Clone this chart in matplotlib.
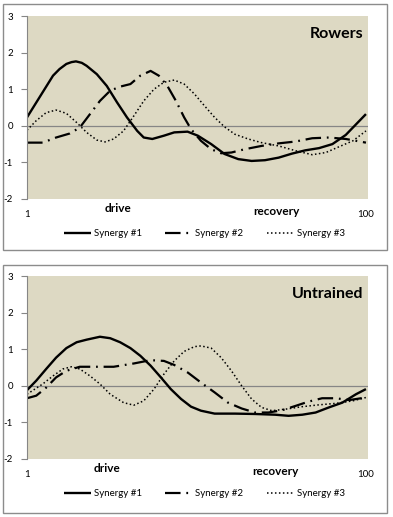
"""
Muscle synergy activation profiles over the rowing stroke cycle,
rowers (top) vs untrained (bottom). Writes out.png.
"""

import matplotlib
matplotlib.use("Agg")
import matplotlib.pyplot as plt
from matplotlib.patches import Rectangle
from matplotlib.transforms import blended_transform_factory

# ── Data ──────────────────────────────────────────────────────────────────────
ROW_T1 = [1, 4.6, 8.6, 10.5, 12.5, 14, 15.3, 17, 18.4, 21.4, 24.3, 27.3, 30.2, 33.2, 35.1, 37.6, 41, 44,
          47.9, 50.9, 54.8, 58.7, 62.7, 66.6, 70.5, 74.5, 78.4, 82.3, 86.3, 90.2, 94.1, 97.1, 100]
ROW_S1 = [0.23, 0.77, 1.37, 1.55, 1.69, 1.74, 1.76, 1.72, 1.64, 1.41, 1.09, 0.64, 0.23, -0.14, -0.32, -0.36,
          -0.27, -0.18, -0.16, -0.27, -0.50, -0.77, -0.91, -0.96, -0.94, -0.87, -0.76, -0.67, -0.61, -0.50,
          -0.25, 0.04, 0.32]

ROW_T2 = [1, 5.6, 9.5, 13.5, 16.4, 19.4, 22.3, 25.3, 28.2, 31.2, 34.1, 37.1, 39.5, 42, 44.5,
          46.9, 48.9, 51.8, 54.8, 57.7, 60.7, 64.6, 69.5, 74.5, 79.4, 84.3, 89.2, 94.1, 100]
ROW_S2 = [-0.46, -0.46, -0.32, -0.21, -0.05, 0.32, 0.68, 0.96, 1.07, 1.14, 1.37, 1.50, 1.37, 1.09, 0.68,
          0.23, -0.09, -0.41, -0.64, -0.75, -0.73, -0.64, -0.55, -0.48, -0.43, -0.34, -0.32, -0.36, -0.46]

ROW_T3 = [1, 3.7, 6.6, 9.5, 12.5, 15.5, 18.4, 21.4, 23.8, 26.3, 29.2, 32.2, 35.1, 38.1, 41, 44,
          46.9, 49.9, 52.8, 55.8, 58.7, 61.7, 65.6, 69.5, 74.5, 79.4, 84.3, 88.3, 92.2, 96.2, 100]
ROW_S3 = [-0.12, 0.14, 0.36, 0.43, 0.34, 0.09, -0.18, -0.39, -0.44, -0.36, -0.14, 0.27, 0.68, 1.00, 1.19, 1.25,
          1.14, 0.87, 0.55, 0.23, -0.03, -0.23, -0.36, -0.46, -0.55, -0.68, -0.79, -0.73, -0.57, -0.41, -0.14]

UNT_T1 = [1, 3.7, 6.6, 9.5, 12.5, 15.5, 18.4, 22.3, 25.3, 28.2, 31.2, 34.1, 37.1, 40.1, 43, 46,
          48.9, 51.8, 55.8, 61.7, 67.6, 73.5, 77.4, 81.4, 85.3, 89.2, 93.1, 97.1, 100]
UNT_S1 = [-0.12, 0.14, 0.46, 0.77, 1.03, 1.19, 1.26, 1.34, 1.30, 1.19, 1.03, 0.82, 0.55, 0.23, -0.09, -0.36,
          -0.57, -0.68, -0.76, -0.76, -0.77, -0.79, -0.82, -0.79, -0.73, -0.59, -0.46, -0.23, -0.09]

UNT_T2 = [1, 3.7, 6.6, 9.5, 12.5, 16.4, 20.3, 26.3, 32.2, 37.1, 41, 44, 48, 51.8, 55.8, 59.7,
          63.7, 67.6, 71.5, 75.4, 79.4, 83.3, 87.2, 91.2, 95.1, 100]
UNT_S2 = [-0.34, -0.27, -0.05, 0.23, 0.41, 0.52, 0.52, 0.52, 0.61, 0.70, 0.68, 0.57, 0.36, 0.09, -0.18, -0.46,
          -0.62, -0.73, -0.73, -0.67, -0.55, -0.43, -0.34, -0.34, -0.39, -0.32]

UNT_T3 = [1, 5.6, 8.6, 11.5, 14, 16.4, 19.4, 22.3, 25.3, 29.2, 32.2, 35.1, 38.1, 41, 44, 46.9,
          49.9, 51.8, 54.8, 57.7, 60.7, 63.7, 66.6, 69.5, 72.5, 76.4, 81.4, 86.3, 91.2, 96.2, 100]
UNT_S3 = [-0.23, 0.05, 0.27, 0.46, 0.52, 0.46, 0.27, 0.05, -0.23, -0.46, -0.53, -0.41, -0.09, 0.32, 0.68, 0.94,
          1.07, 1.09, 1.03, 0.77, 0.41, 0.00, -0.36, -0.59, -0.68, -0.64, -0.57, -0.52, -0.48, -0.41, -0.32]

SERIES_LABELS = ["Synergy #1", "Synergy #2", "Synergy #3"]
Y_TICKS = [-2, -1, 0, 1, 2, 3]
X_TICKS = [1, 100]

# ── Style ─────────────────────────────────────────────────────────────────────
PLOT_BG = "#DDD9C3"
AXIS_GRAY = "#868686"
FONT = "Lato"
STYLES = [
    dict(color="black", linewidth=1.7, linestyle="-"),
    dict(color="black", linewidth=1.6, linestyle=(0, (7, 2.6, 0.8, 2.6))),
    dict(color="black", linewidth=1.1, linestyle=(0, (1, 1.6))),
]

W, H = 393, 517


def px_rect(x0, y0, x1, y1):
    """pixel box (top-left origin) -> figure fraction [left, bottom, w, h]"""
    return [x0 / W, 1 - y1 / H, (x1 - x0) / W, (y1 - y0) / H]


def draw_panel(fig, rect, box, title, series, drive_x, recovery_x):
    fig.patches.append(Rectangle(
        (box[0], box[1]), box[2], box[3], transform=fig.transFigure,
        fill=False, edgecolor="#8C8C8C", linewidth=1.0))

    ax = fig.add_axes(rect)
    ax.set_facecolor(PLOT_BG)
    for (t, v), st in zip(series, STYLES):
        ax.plot(t, v, solid_capstyle="butt", dash_capstyle="butt",
                solid_joinstyle="round", **st)
    ax.axhline(0, color=AXIS_GRAY, linewidth=0.9, zorder=1)

    ax.set_xlim(1, 100.6)
    ax.set_ylim(-2, 3)
    ax.spines[["top", "right", "bottom"]].set_visible(False)
    ax.spines["left"].set_color(AXIS_GRAY)
    ax.set_yticks(Y_TICKS)
    ax.set_yticklabels([str(v) for v in Y_TICKS], fontsize=7, family=FONT)
    ax.tick_params(axis="y", direction="out", length=4, width=0.8, color=AXIS_GRAY, pad=6)
    ax.set_xticks(X_TICKS)
    ax.set_xticklabels([str(v) for v in X_TICKS], fontsize=7, family=FONT)
    ax.tick_params(axis="x", length=0, pad=8)

    ax.text(0.985, 0.9, title, transform=ax.transAxes, ha="right", va="center",
            fontsize=11.5, fontweight="bold", family=FONT)

    trans = blended_transform_factory(ax.transData, ax.transAxes)
    ax.text(drive_x, -0.05, "drive", transform=trans, ha="center", va="center",
            fontsize=8.5, fontweight="bold", family=FONT)
    ax.text(recovery_x, -0.07, "recovery", transform=trans, ha="center", va="center",
            fontsize=8.5, fontweight="bold", family=FONT)

    ax.legend(SERIES_LABELS, loc="center", bbox_to_anchor=(0.52, -0.19), ncol=3,
              frameon=False, handlelength=2.8, handletextpad=0.3, columnspacing=2.4,
              prop={"family": FONT, "size": 7})
    return ax


def main() -> None:
    fig = plt.figure(figsize=(W / 100, H / 100), dpi=100)
    fig.patch.set_facecolor("white")

    draw_panel(
        fig, px_rect(27, 16, 368, 199), px_rect(3, 4, 387, 250), "Rowers",
        [(ROW_T1, ROW_S1), (ROW_T2, ROW_S2), (ROW_T3, ROW_S3)], 27.5, 74,
    )
    draw_panel(
        fig, px_rect(27, 276, 368, 459), px_rect(3, 265, 387, 513), "Untrained",
        [(UNT_T1, UNT_S1), (UNT_T2, UNT_S2), (UNT_T3, UNT_S3)], 24.3, 73.6,
    )

    fig.savefig("out.png", dpi=100, facecolor=fig.get_facecolor())


if __name__ == "__main__":
    main()
